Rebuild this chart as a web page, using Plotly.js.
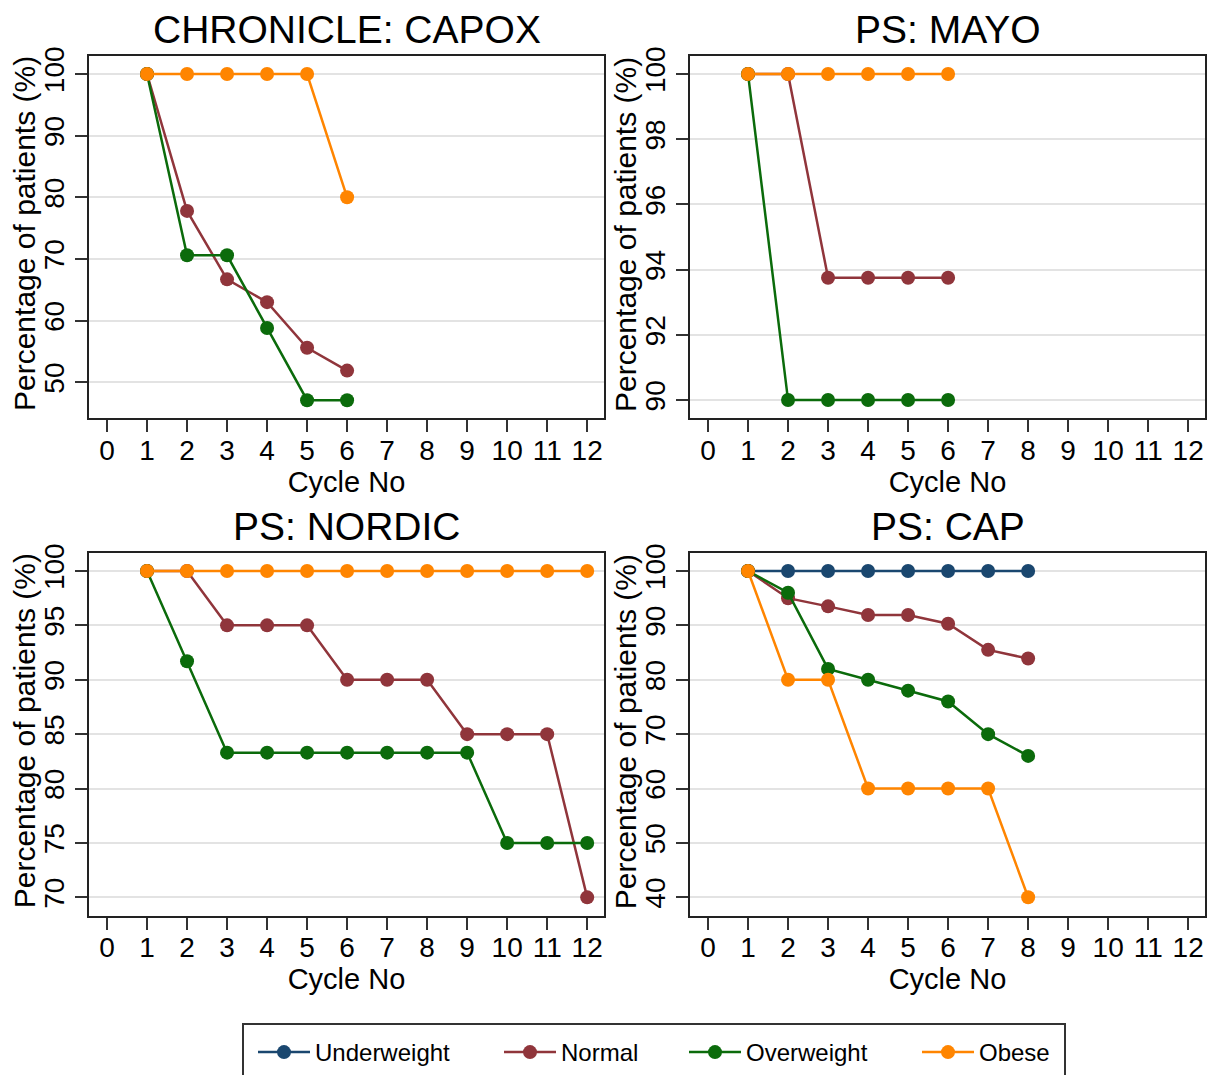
<!DOCTYPE html>
<html><head><meta charset="utf-8">
<script src="https://cdn.plot.ly/plotly-3.0.1.min.js"></script>
<style>html,body{margin:0;padding:0;background:#fff}#chart{width:1208px;height:1075px}</style>
</head><body><div id="chart"></div>
<script>
// ---- data ----
const categories = ['Underweight', 'Normal', 'Overweight', 'Obese'];
const seriesColors = ['#1a476f', '#90353b', '#0b6b0b', '#ff8500'];
const panelTitles = ['CHRONICLE: CAPOX', 'PS: MAYO', 'PS: NORDIC', 'PS: CAP'];
const xAxisTitle = 'Cycle No';
const yAxisTitle = 'Percentage of patients (%)';
const xTickVals = [0, 1, 2, 3, 4, 5, 6, 7, 8, 9, 10, 11, 12];

const capoxCycles = [1, 2, 3, 4, 5, 6];
const capoxNormal = [100, 77.8, 66.7, 63.0, 55.6, 51.9];
const capoxOverweight = [100, 70.6, 70.6, 58.8, 47.1, 47.1];
const capoxObese = [100, 100, 100, 100, 100, 80];
const capoxYTicks = [50, 60, 70, 80, 90, 100];

const mayoCycles = [1, 2, 3, 4, 5, 6];
const mayoNormal = [100, 100, 93.75, 93.75, 93.75, 93.75];
const mayoOverweight = [100, 90, 90, 90, 90, 90];
const mayoObese = [100, 100, 100, 100, 100, 100];
const mayoYTicks = [90, 92, 94, 96, 98, 100];

const nordicCycles = [1, 2, 3, 4, 5, 6, 7, 8, 9, 10, 11, 12];
const nordicNormal = [100, 100, 95, 95, 95, 90, 90, 90, 85, 85, 85, 70];
const nordicOverweight = [100, 91.7, 83.3, 83.3, 83.3, 83.3, 83.3, 83.3, 83.3, 75, 75, 75];
const nordicObese = [100, 100, 100, 100, 100, 100, 100, 100, 100, 100, 100, 100];
const nordicYTicks = [70, 75, 80, 85, 90, 95, 100];

const capCycles = [1, 2, 3, 4, 5, 6, 7, 8];
const capUnderweight = [100, 100, 100, 100, 100, 100, 100, 100];
const capNormal = [100, 95.0, 93.5, 91.9, 91.9, 90.3, 85.5, 83.9];
const capOverweight = [100, 96, 82, 80, 78, 76, 70, 66];
const capObese = [100, 80, 80, 60, 60, 60, 60, 40];
const capYTicks = [40, 50, 60, 70, 80, 90, 100];

// ---- layout helpers ----
const W = 1208, H = 1075;
const FONT = 'Liberation Sans, Arial, sans-serif';
const panels = [
  {title: panelTitles[0], x: capoxCycles, series: [null, capoxNormal, capoxOverweight, capoxObese], yticks: capoxYTicks, yrange: [44.21, 102.92], box: [89, 604, 56, 418]},
  {title: panelTitles[1], x: mayoCycles, series: [null, mayoNormal, mayoOverweight, mayoObese], yticks: mayoYTicks, yrange: [89.45, 100.55], box: [690, 1205, 56, 418]},
  {title: panelTitles[2], x: nordicCycles, series: [null, nordicNormal, nordicOverweight, nordicObese], yticks: nordicYTicks, yrange: [68.33, 101.65], box: [89, 604, 553, 915.5]},
  {title: panelTitles[3], x: capCycles, series: [capUnderweight, capNormal, capOverweight, capObese], yticks: capYTicks, yrange: [36.65, 103.31], box: [690, 1205, 553, 915.5]}
];
// legend entry left edges (px) inside the shared legend frame
const legendLeft = [253, 499, 684, 917];
const legendIds = ['legend', 'legend2', 'legend3', 'legend4'];

const traces = [];
const layout = {
  width: W, height: H,
  margin: {l: 0, r: 0, t: 0, b: 0, autoexpand: false},
  paper_bgcolor: '#ffffff', plot_bgcolor: '#ffffff',
  font: {family: FONT, color: '#000000', size: 28},
  showlegend: true,
  annotations: [],
  shapes: [{
    type: 'rect', xref: 'paper', yref: 'paper', layer: 'below',
    x0: 243 / W, x1: 1065 / W, y0: 1 - 1085 / H, y1: 1 - 1024 / H,
    line: {color: '#333333', width: 2}, fillcolor: 'rgba(0,0,0,0)'
  }]
};
legendIds.forEach((id, k) => {
  layout[id] = {
    orientation: 'h', x: legendLeft[k] / W, xanchor: 'left', y: 1 - 1030 / H, yanchor: 'top',
    borderwidth: 0, bgcolor: 'rgba(0,0,0,0)', itemwidth: 52,
    font: {family: FONT, size: 24, color: '#000000'}
  };
});
const shown = {};

panels.forEach((p, i) => {
  const n = i + 1;
  const xa = 'xaxis' + (n === 1 ? '' : n), ya = 'yaxis' + (n === 1 ? '' : n);
  const xr = 'x' + (n === 1 ? '' : n), yr = 'y' + (n === 1 ? '' : n);
  const [l, r, t, b] = p.box;
  layout[xa] = {
    domain: [l / W, r / W], anchor: yr, range: [-0.45, 12.42],
    tickmode: 'array', tickvals: xTickVals, ticktext: xTickVals.map(String),
    ticks: 'outside', ticklen: 12, tickwidth: 2, tickcolor: '#333333',
    ticklabelstandoff: -6,
    showline: true, mirror: true, linecolor: '#222222', linewidth: 2,
    showgrid: false, zeroline: false, automargin: false,
    tickfont: {size: 28, family: FONT},
    title: {text: xAxisTitle, font: {size: 29, family: FONT}, standoff: 0}
  };
  layout[ya] = {
    domain: [1 - b / H, 1 - t / H], anchor: xr, range: p.yrange,
    tickmode: 'array', tickvals: p.yticks, ticktext: p.yticks.map(String),
    tickangle: -90,
    ticks: 'outside', ticklen: 12, tickwidth: 2, tickcolor: '#333333',
    showline: true, mirror: true, linecolor: '#222222', linewidth: 2,
    showgrid: true, gridcolor: '#e3e3e3', gridwidth: 2, zeroline: false, automargin: false,
    tickfont: {size: 28, family: FONT}
  };
  // panel title
  layout.annotations.push({
    text: p.title, xref: 'paper', yref: 'paper',
    x: (l + r) / 2 / W, y: 1 - (t - 27) / H, xanchor: 'center', yanchor: 'middle',
    showarrow: false, font: {size: 39, family: FONT, color: '#000000'}
  });
  // y-axis title
  layout.annotations.push({
    text: yAxisTitle, xref: 'paper', yref: 'paper', textangle: -90,
    x: (l - 65) / W, y: 1 - ((t + b) / 2 - 3) / H, xanchor: 'center', yanchor: 'middle',
    showarrow: false, font: {size: 30, family: FONT, color: '#000000'}
  });
  p.series.forEach((vals, k) => {
    if (!vals) return;
    traces.push({
      type: 'scatter', mode: 'lines+markers',
      x: p.x, y: vals, xaxis: xr, yaxis: yr,
      name: categories[k], legendgroup: categories[k], legend: legendIds[k],
      showlegend: !shown[categories[k]],
      line: {color: seriesColors[k], width: 2.5},
      marker: {color: seriesColors[k], size: 14, symbol: 'circle'},
      hoverinfo: 'x+y+name'
    });
    shown[categories[k]] = true;
  });
});

Plotly.newPlot('chart', traces, layout, {displayModeBar: false, staticPlot: true});
</script>
</body></html>
